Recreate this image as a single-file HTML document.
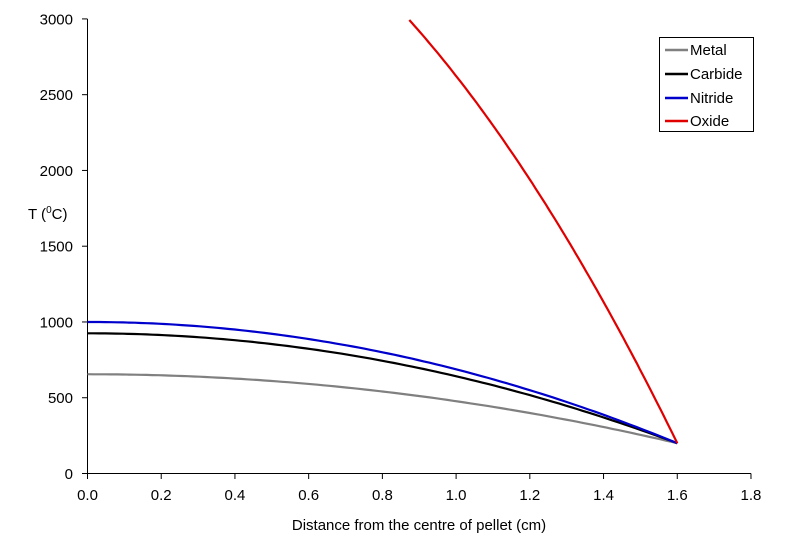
<!DOCTYPE html>
<html><head><meta charset="utf-8"><style>
body{margin:0;background:#fff;width:800px;height:547px;overflow:hidden}
text{font-family:"Liberation Sans",Arial,sans-serif;font-size:15px;fill:#000}
</style></head><body>
<svg id="s" width="800" height="547" xmlns="http://www.w3.org/2000/svg">
<g stroke="#000" stroke-width="1">
<line x1="87.5" y1="19" x2="87.5" y2="473.5"/>
<line x1="87.5" y1="473.5" x2="751" y2="473.5"/>
</g>
<g id="ticks" stroke="#000" stroke-width="1"></g>
<g id="labels"></g>
<text x="28" y="219">T (<tspan dy="-6" font-size="10">0</tspan><tspan dy="6">C)</tspan></text>
<text x="419" y="530" text-anchor="middle">Distance from the centre of pellet (cm)</text>
<g id="series" fill="none" stroke-width="2.2"></g>
<rect x="659.5" y="37.5" width="94" height="94" fill="#fff" stroke="#000" stroke-width="1"/>
<g stroke-width="2.5">
<line x1="665" y1="50" x2="688" y2="50" stroke="#808080"/>
<line x1="665" y1="74" x2="688" y2="74" stroke="#000"/>
<line x1="665" y1="98" x2="688" y2="98" stroke="#0000cc"/>
<line x1="665" y1="121" x2="688" y2="121" stroke="#e00000"/>
</g>
<text x="690" y="55">Metal</text>
<text x="690" y="79">Carbide</text>
<text x="690" y="103">Nitride</text>
<text x="690" y="126">Oxide</text>
</svg>
<script>
var X=function(r){return 87.5+r*368.6},Y=function(t){return 473.5-t*0.15153};
var tk=document.getElementById('ticks'),lb=document.getElementById('labels'),ns='http://www.w3.org/2000/svg';
function el(p,tag,a,txt){var e=document.createElementNS(ns,tag);for(var k in a)e.setAttribute(k,a[k]);if(txt)e.textContent=txt;p.appendChild(e);}
for(var i=0;i<=6;i++){var y=Y(i*500);el(tk,'line',{x1:82,x2:87.5,y1:y,y2:y});el(lb,'text',{x:73,y:y+5.5,'text-anchor':'end'},String(i*500));}
for(var i=0;i<=9;i++){var x=X(i*0.2);el(tk,'line',{x1:x,x2:x,y1:473.5,y2:479});el(lb,'text',{x:x,y:500,'text-anchor':'middle'},(i*0.2).toFixed(1));}
var sg=document.getElementById('series');
function curve(T0,col,r0){var p=[];var n=100;for(var i=0;i<=n;i++){var r=r0+(1.6-r0)*i/n;var t=200+(T0-200)*(1-Math.pow(r/1.6,2));p.push(X(r).toFixed(1)+','+Y(t).toFixed(1));}el(sg,'polyline',{points:p.join(' '),stroke:col});}
curve(655,'#808080',0);curve(925,'#000',0);curve(1000,'#0000cc',0);curve(4177,'#e00000',0.873);
</script>
</body></html>
